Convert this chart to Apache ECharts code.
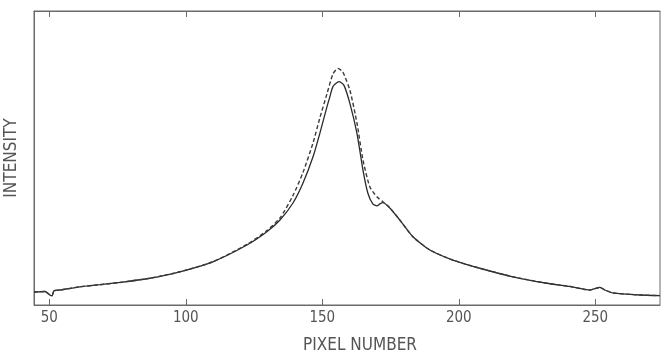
<!DOCTYPE html>
<html>
<head>
<meta charset="utf-8">
<script src="https://cdn.jsdelivr.net/npm/echarts@6/dist/echarts.min.js"></script>
<style>
html,body{margin:0;padding:0;background:#fff;}
#chart{width:662px;height:356px;}
</style>
</head>
<body>
<div id="chart"></div>
<script>
// Tick labels on the pixel-number axis
var xTicks = [50, 100, 150, 200, 250];

// Solid curve (measured)
var solidPixel = [44.4, 48.4, 50.2, 51.0, 51.7, 53.9, 61.2, 68.5, 77.0, 86.8, 97.8, 109.9, 122.4, 129.7, 134.5, 139.2, 142.9, 146.6, 149.1, 151.7, 152.8, 153.9, 156.1, 157.9, 160.1, 162.7, 164.9, 166.7, 168.5, 170.0, 171.1, 172.2, 174.8, 178.4, 183.2, 189.4, 197.8, 207.7, 219.8, 232.3, 240.7, 248.0, 251.7, 253.5, 256.4, 266.3, 273.6];
var solidIntensity = [4.4, 4.6, 3.4, 3.1, 4.8, 5.1, 6.2, 6.9, 7.8, 9.1, 11.3, 14.7, 20.4, 24.9, 28.9, 34.6, 41.4, 50.4, 58.4, 67.4, 70.9, 74.3, 76.0, 74.8, 68.6, 58.4, 45.9, 38.0, 34.4, 33.7, 34.4, 34.8, 32.9, 28.9, 23.2, 18.7, 15.3, 12.5, 9.6, 7.4, 6.3, 5.1, 6.0, 5.1, 4.1, 3.4, 3.2];

// Dashed curve (calculated profile)
var dashedPixel = [44.4, 48.4, 50.2, 51.0, 51.7, 53.9, 61.2, 68.5, 77.0, 86.8, 97.8, 109.9, 122.4, 129.7, 134.5, 139.2, 142.9, 146.6, 149.1, 151.7, 153.9, 155.7, 157.5, 160.1, 162.7, 164.9, 167.4, 170.0, 172.2, 174.8, 178.4, 183.2, 189.4, 197.8, 207.7, 219.8, 232.3, 240.7, 248.0, 251.7, 253.5, 256.4, 266.3, 273.6];
var dashedIntensity = [4.4, 4.6, 3.4, 3.1, 4.8, 5.1, 6.2, 6.9, 7.8, 9.1, 11.3, 14.7, 20.6, 25.3, 29.6, 37.1, 45.0, 55.1, 63.6, 71.8, 78.6, 80.5, 79.3, 73.1, 61.9, 49.3, 40.2, 36.8, 35.1, 33.0, 28.9, 23.2, 18.7, 15.3, 12.5, 9.6, 7.4, 6.3, 5.1, 6.0, 5.1, 4.1, 3.4, 3.2];

function pairs(xs, ys) { return xs.map(function (x, i) { return [x, ys[i]]; }); }

var chart = echarts.init(document.getElementById('chart'), null, {renderer: 'canvas'});
var font = '"DejaVu Sans Condensed", "DejaVu Sans", sans-serif';
var axisGray = '#6a6a6a';
var tickCommon = {show: true, inside: true, length: 6, lineStyle: {color: axisGray, width: 1}, customValues: xTicks};
chart.setOption({
  animation: false,
  backgroundColor: '#ffffff',
  grid: {left: 34, right: 2, top: 11, bottom: 51, show: true, borderColor: axisGray, borderWidth: 1,
         containLabel: false, outerBoundsMode: 'none'},
  xAxis: [{
    type: 'value', min: 44.4, max: 273.7, position: 'bottom',
    name: 'PIXEL NUMBER', nameLocation: 'middle', nameGap: 32,
    nameTextStyle: {fontFamily: font, fontSize: 17, color: '#555', padding: [0, 0, 0, 26]},
    axisLine: {show: true, lineStyle: {color: axisGray, width: 1}},
    axisTick: tickCommon,
    axisLabel: {show: true, customValues: xTicks, fontFamily: font, fontSize: 15, color: '#555', margin: 6},
    splitLine: {show: false}
  }, {
    type: 'value', min: 44.4, max: 273.7, position: 'top',
    axisLine: {show: true, lineStyle: {color: axisGray, width: 1}},
    axisTick: tickCommon,
    axisLabel: {show: false},
    splitLine: {show: false}
  }],
  yAxis: {
    type: 'value', min: 0, max: 100,
    name: 'INTENSITY', nameLocation: 'middle', nameGap: 14,
    nameTextStyle: {fontFamily: font, fontSize: 17, color: '#555'},
    axisLine: {show: true, lineStyle: {color: axisGray, width: 1}},
    axisTick: {show: false}, axisLabel: {show: false}, splitLine: {show: false}
  },
  series: [{
    type: 'line', name: 'measured', data: pairs(solidPixel, solidIntensity),
    smooth: 0.2, showSymbol: false, symbol: 'none',
    lineStyle: {color: '#2a2a2a', width: 1.3, type: 'solid'}
  }, {
    type: 'line', name: 'calculated', data: pairs(dashedPixel, dashedIntensity),
    smooth: 0.2, showSymbol: false, symbol: 'none',
    lineStyle: {color: '#3a3a3a', width: 1.4, type: [4, 2.5]}
  }]
});
</script>
</body>
</html>
